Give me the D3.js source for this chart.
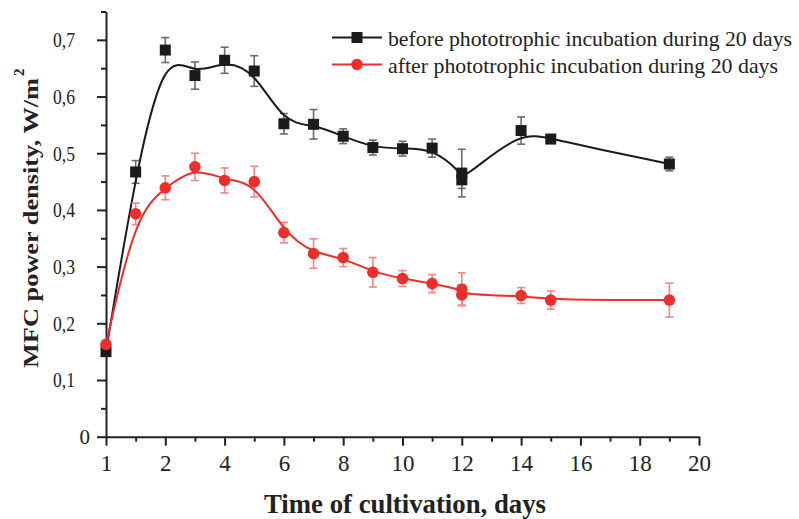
<!DOCTYPE html>
<html>
<head>
<meta charset="utf-8">
<script src="https://cdnjs.cloudflare.com/ajax/libs/d3/7.8.5/d3.min.js"></script>
<style>
  body { margin: 0; background: #fff; }
  svg text { font-family: "Liberation Serif", "Times New Roman", serif; }
</style>
</head>
<body>
<div id="chart"></div>
<script>
// x positions on the axis (the axis labels its 0 position as "1")
var days = [0, 1, 2, 3, 4, 5, 6, 7, 8, 9, 10, 11, 12, 12, 14, 15, 19];
var before = [0.150, 0.467, 0.682, 0.637, 0.664, 0.645, 0.552, 0.551, 0.530, 0.510, 0.508, 0.509, 0.465, 0.453, 0.540, 0.525, 0.481];
var beforeErr = [0, 0.020, 0.022, 0.024, 0.023, 0.027, 0.018, 0.026, 0.013, 0.013, 0.013, 0.016, 0.042, 0.015, 0.024, 0.005, 0.012];
var after = [0.163, 0.393, 0.439, 0.476, 0.452, 0.450, 0.360, 0.323, 0.316, 0.290, 0.279, 0.270, 0.260, 0.250, 0.249, 0.241, 0.241];
var afterErr = [0, 0.019, 0.021, 0.024, 0.022, 0.027, 0.018, 0.026, 0.016, 0.026, 0.014, 0.016, 0.029, 0.018, 0.014, 0.016, 0.030];

var xTickVals = [0, 2, 4, 6, 8, 10, 12, 14, 16, 18, 20];
var xTickLabels = ["1", "2", "4", "6", "8", "10", "12", "14", "16", "18", "20"];
var yTickVals = [0, 0.1, 0.2, 0.3, 0.4, 0.5, 0.6, 0.7];

var legendNames = ["before phototrophic incubation during 20 days",
                   "after phototrophic incubation during 20 days"];

var width = 799, height = 519;
var black = "#1c1a1a", red = "#ec2f2c";

var svg = d3.select("#chart").append("svg")
  .attr("width", width)
  .attr("height", height);

var x = d3.scaleLinear().domain([0, 20]).range([106, 699]);
var y = d3.scaleLinear().domain([0, 0.75]).range([436.7, 11.5]);

// minor ticks first
svg.append("g")
  .attr("transform", "translate(0," + y(0) + ")")
  .call(d3.axisBottom(x).tickValues(d3.range(1, 20, 2)).tickSize(5).tickFormat(""))
  .call(function(g) { g.select(".domain").remove(); });
svg.append("g")
  .attr("transform", "translate(" + x(0) + ",0)")
  .call(d3.axisLeft(y).tickValues(d3.range(0.05, 0.76, 0.1)).tickSize(5).tickFormat(""))
  .call(function(g) { g.select(".domain").remove(); });

var xAxis = svg.append("g")
  .attr("transform", "translate(0," + y(0) + ")")
  .call(d3.axisBottom(x).tickValues(xTickVals).tickSize(9).tickSizeOuter(0)
    .tickFormat(function(d, i) { return xTickLabels[i]; }));

var yAxis = svg.append("g")
  .attr("transform", "translate(" + x(0) + ",0)")
  .call(d3.axisLeft(y).tickValues(yTickVals).tickSize(9).tickSizeOuter(0)
    .tickFormat(function(d) { return d === 0 ? "0" : d3.format(".1f")(d).replace(".", ","); }));

svg.selectAll(".domain, .tick line")
  .attr("stroke", "#222")
  .attr("stroke-width", 2);

xAxis.selectAll("text")
  .attr("font-size", 23)
  .attr("fill", "#222")
  .attr("dy", null)
  .attr("y", 34);

yAxis.selectAll("text")
  .attr("font-size", 21)
  .attr("fill", "#222")
  .attr("dy", "0.33em")
  .attr("x", function(d) { return d === 0 ? -16 : -31; })
  .each(function(d) {
    if (d !== 0) d3.select(this).attr("textLength", 22).attr("lengthAdjust", "spacingAndGlyphs");
  });

// axis titles
svg.append("text")
  .attr("x", 405)
  .attr("y", 513)
  .attr("text-anchor", "middle")
  .attr("font-size", 27)
  .attr("font-weight", "bold")
  .attr("fill", "#222")
  .attr("textLength", 282)
  .attr("lengthAdjust", "spacingAndGlyphs")
  .text("Time of cultivation, days");

var yTitle = svg.append("g").attr("transform", "translate(38,368) rotate(-90)");
yTitle.append("text")
  .attr("x", 0)
  .attr("y", 0)
  .attr("font-size", 22)
  .attr("font-weight", "bold")
  .attr("fill", "#222")
  .attr("textLength", 290)
  .attr("lengthAdjust", "spacingAndGlyphs")
  .text("MFC power density, W/m");
yTitle.append("text")
  .attr("x", 292)
  .attr("y", -14)
  .attr("font-size", 15)
  .attr("font-weight", "bold")
  .attr("fill", "#222")
  .text("2");

function drawSeries(vals, errs, color, errColor, shape) {
  var g = svg.append("g");
  var pts = days.map(function(d, i) { return { x: d, v: vals[i], e: errs[i] }; });

  var eb = g.selectAll(".err").data(pts.filter(function(p) { return p.e > 0; }))
    .enter().append("g")
    .attr("stroke", errColor)
    .attr("stroke-width", 1.6);
  eb.append("line")
    .attr("x1", function(p) { return x(p.x); })
    .attr("x2", function(p) { return x(p.x); })
    .attr("y1", function(p) { return y(p.v - p.e); })
    .attr("y2", function(p) { return y(p.v + p.e); });
  [-1, 1].forEach(function(s) {
    eb.append("line")
      .attr("x1", function(p) { return x(p.x) - 4; })
      .attr("x2", function(p) { return x(p.x) + 4; })
      .attr("y1", function(p) { return y(p.v + s * p.e); })
      .attr("y2", function(p) { return y(p.v + s * p.e); });
  });

  var line = d3.line()
    .x(function(p) { return x(p.x); })
    .y(function(p) { return y(p.v); })
    .curve(d3.curveBasis);
  g.append("path")
    .datum(pts)
    .attr("d", line)
    .attr("fill", "none")
    .attr("stroke", color)
    .attr("stroke-width", 2);

  if (shape === "square") {
    g.selectAll(".m").data(pts).enter().append("rect")
      .attr("x", function(p) { return x(p.x) - 5.5; })
      .attr("y", function(p) { return y(p.v) - 5.5; })
      .attr("width", 11)
      .attr("height", 11)
      .attr("fill", color);
  } else {
    g.selectAll(".m").data(pts).enter().append("circle")
      .attr("cx", function(p) { return x(p.x); })
      .attr("cy", function(p) { return y(p.v); })
      .attr("r", 5.8)
      .attr("fill", color);
  }
}

drawSeries(before, beforeErr, black, "#6b6b6b", "square");
drawSeries(after, afterErr, red, "#f28585", "circle");

// legend
var legend = [
  { name: legendNames[0], color: black, shape: "square", ly: 37.5, ty: 46, len: 404 },
  { name: legendNames[1], color: red, shape: "circle", ly: 64.5, ty: 73, len: 390 }
];
legend.forEach(function(l) {
  svg.append("line")
    .attr("x1", 332).attr("x2", 382)
    .attr("y1", l.ly).attr("y2", l.ly)
    .attr("stroke", l.color).attr("stroke-width", 2);
  if (l.shape === "square") {
    svg.append("rect").attr("x", 351.5).attr("y", l.ly - 5.5)
      .attr("width", 11).attr("height", 11).attr("fill", l.color);
  } else {
    svg.append("circle").attr("cx", 357).attr("cy", l.ly).attr("r", 5.8).attr("fill", l.color);
  }
  svg.append("text")
    .attr("x", 388).attr("y", l.ty)
    .attr("font-size", 21)
    .attr("fill", "#222")
    .attr("textLength", l.len)
    .attr("lengthAdjust", "spacingAndGlyphs")
    .text(l.name);
});
</script>
</body>
</html>
